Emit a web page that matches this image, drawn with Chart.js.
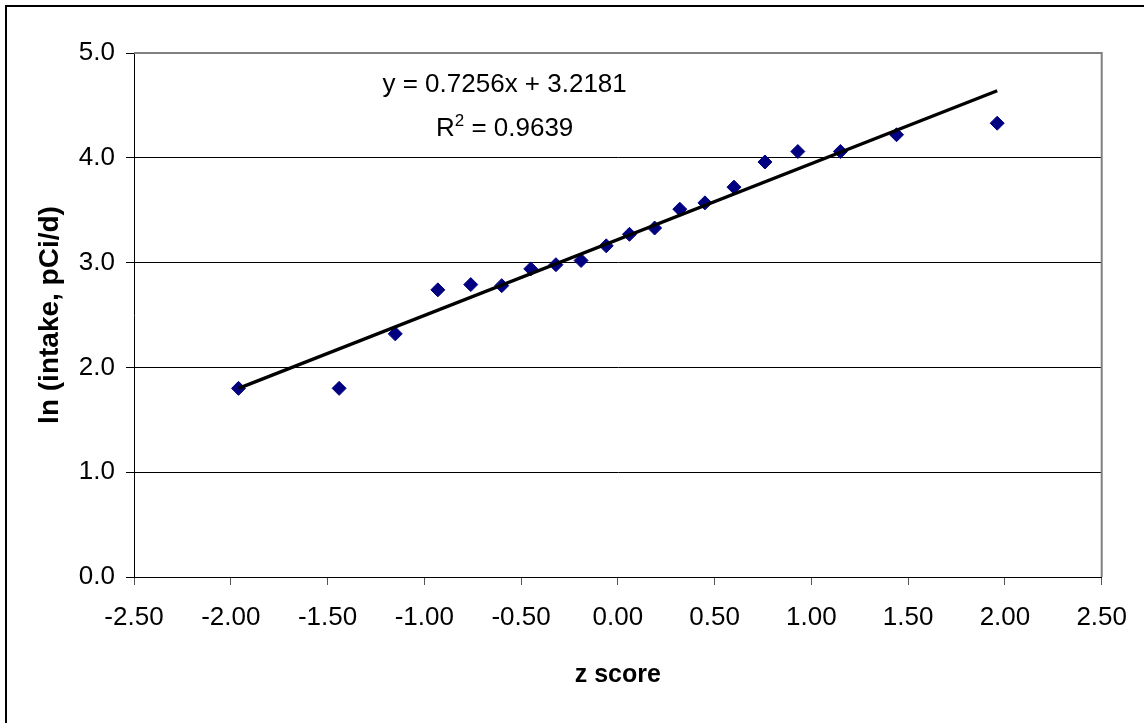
<!DOCTYPE html>
<html>
<head>
<meta charset="utf-8">
<script src="https://cdn.jsdelivr.net/npm/chart.js@4.4.0/dist/chart.umd.min.js"></script>
<style>
  html, body { margin: 0; padding: 0; background: #fff; overflow: hidden; }
  #wrap { position: relative; width: 1144px; height: 723px; }
  #wrap canvas { position: absolute; left: 0; top: 0; }
  #frame { position: absolute; left: 5px; top: 5px; width: 1200px; height: 800px; border: 2px solid #000; pointer-events: none; }
</style>
</head>
<body>
<div id="wrap">
  <canvas id="chart" width="1144" height="723"></canvas>
  <div id="frame"></div>
</div>
<script>
// z scores (normal quantiles) and ln(intake)
const zScores = [-1.96, -1.44, -1.15, -0.93, -0.76, -0.60, -0.45, -0.32, -0.19, -0.06,
                 0.06, 0.19, 0.32, 0.45, 0.60, 0.76, 0.93, 1.15, 1.44, 1.96];
const lnIntake = [1.80, 1.80, 2.32, 2.74, 2.79, 2.78, 2.94, 2.98, 3.02, 3.16,
                  3.27, 3.33, 3.51, 3.57, 3.72, 3.96, 4.06, 4.06, 4.22, 4.33];

// linear trendline end points
const trendX = [-1.96, 1.96];
const trendY = [1.80, 4.64];

const eqText = 'y = 0.7256x + 3.2181';
const r2Value = '0.9639';

const FONT = '"Liberation Sans", Arial, sans-serif';

(() => {
  const canvas = document.getElementById('chart');

  // gray frame on top/right of the plot area
  const plotFrame = {
    id: 'plotFrame',
    beforeDatasetsDraw(chart) {
      const { ctx, chartArea: a } = chart;
      ctx.save();
      ctx.strokeStyle = '#808080';
      ctx.lineWidth = 2;
      ctx.beginPath();
      ctx.moveTo(a.left, a.top);
      ctx.lineTo(a.right, a.top);
      ctx.lineTo(a.right, a.bottom);
      ctx.stroke();
      ctx.restore();
    }
  };

  // trendline equation + R^2 text
  const trendLabel = {
    id: 'trendLabel',
    afterDatasetsDraw(chart) {
      const { ctx, scales: { x, y } } = chart;
      const cx = x.getPixelForValue(-0.585);
      ctx.save();
      ctx.fillStyle = '#000';
      ctx.textBaseline = 'alphabetic';
      ctx.font = `26px ${FONT}`;
      ctx.textAlign = 'center';
      ctx.fillText(eqText, cx, y.getPixelForValue(4.63));

      const by = y.getPixelForValue(4.21);
      const partA = 'R';
      const partB = ' = ' + r2Value;
      const wA = ctx.measureText(partA).width;
      const wB = ctx.measureText(partB).width;
      ctx.font = `17px ${FONT}`;
      const wS = ctx.measureText('2').width;
      const x0 = cx - (wA + wS + wB) / 2;
      ctx.textAlign = 'left';
      ctx.font = `26px ${FONT}`;
      ctx.fillText(partA, x0, by);
      ctx.fillText(partB, x0 + wA + wS, by);
      ctx.font = `17px ${FONT}`;
      ctx.fillText('2', x0 + wA, by - 10);
      ctx.restore();
    }
  };

  new Chart(canvas, {
    type: 'scatter',
    data: {
      datasets: [
        {
          label: 'Linear (ln intake)',
          data: trendX.map((v, i) => ({ x: v, y: trendY[i] })),
          showLine: true,
          borderColor: '#000',
          borderWidth: 3.3,
          pointRadius: 0,
          order: 1
        },
        {
          label: 'ln intake',
          data: zScores.map((v, i) => ({ x: v, y: lnIntake[i] })),
          pointStyle: 'rectRot',
          pointRadius: 7,
          pointBackgroundColor: '#000080',
          pointBorderColor: '#000080',
          pointBorderWidth: 1,
          order: 2
        }
      ]
    },
    options: {
      responsive: false,
      animation: false,
      devicePixelRatio: 1,
      layout: { padding: { top: 53, right: 37, left: 0, bottom: 0 } },
      plugins: {
        legend: { display: false },
        tooltip: { enabled: false }
      },
      scales: {
        x: {
          type: 'linear',
          min: -2.5,
          max: 2.5,
          afterFit: (s) => { s.height = 146; },
          border: { color: '#000', width: 1 },
          grid: { drawOnChartArea: false, drawTicks: true, tickLength: 8, color: '#555' },
          ticks: {
            stepSize: 0.5,
            padding: 17,
            color: '#000',
            font: { family: FONT, size: 26 },
            maxRotation: 0,
            callback: (v) => Number(v).toFixed(2)
          },
          title: {
            display: true,
            text: 'z score',
            color: '#000',
            font: { family: FONT, size: 25, weight: 'bold' },
            padding: { top: 0, bottom: 33 }
          }
        },
        y: {
          type: 'linear',
          min: 0,
          max: 5,
          afterFit: (s) => { s.width = 134; },
          border: { color: '#000', width: 1 },
          grid: { color: '#000', lineWidth: 1, drawTicks: true, tickLength: 8 },
          ticks: {
            stepSize: 1,
            padding: 11,
            color: '#000',
            font: { family: FONT, size: 26 },
            callback: (v) => Number(v).toFixed(1)
          },
          title: {
            display: true,
            text: 'ln (intake, pCi/d)',
            color: '#000',
            font: { family: FONT, size: 28, weight: 'bold' },
            padding: { top: 33, bottom: 0 }
          }
        }
      }
    },
    plugins: [plotFrame, trendLabel]
  });
})();
</script>
</body>
</html>
